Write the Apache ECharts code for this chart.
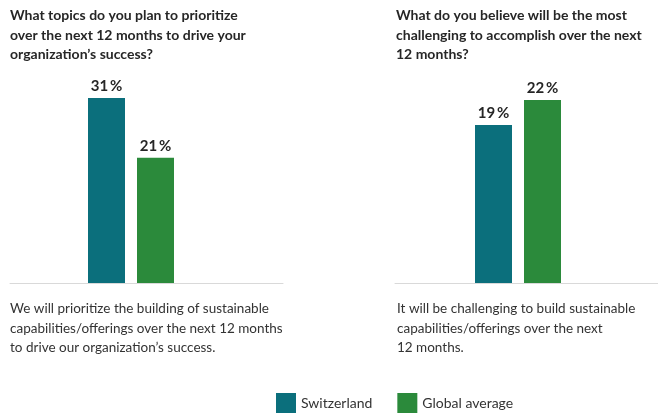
<!DOCTYPE html>
<html><head><meta charset="utf-8">
<script src="https://cdn.jsdelivr.net/npm/echarts@6/dist/echarts.min.js"></script>
<style>html,body{margin:0;padding:0;background:#fff}#c{width:658px;height:414px}</style>
</head><body><div id="c"></div>
<script>
const seriesNames = ['Switzerland', 'Global average'];
const leftTitle = 'What topics do you plan to prioritize\nover the next 12 months to drive your\norganization\u2019s success?';
const leftNote = 'We will prioritize the building of sustainable\ncapabilities/offerings over the next 12 months\nto drive our organization\u2019s success.';
const rightTitle = 'What do you believe will be the most\nchallenging to accomplish over the next\n12 months?';
const rightNote = 'It will be challenging to build sustainable\ncapabilities/offerings over the next\n12 months.';
const leftValues = [31, 21];   // Switzerland, Global average
const rightValues = [19, 22];  // Switzerland, Global average
const colors = ['#0b6f7c', '#2b8a3b'];

const FONT = 'Lato';
const chart = echarts.init(document.getElementById('c'));
const titleStyle = {fontFamily: FONT, fontSize: 14, fontWeight: 'bold', color: '#262626', lineHeight: 19.5};
const noteStyle = {fontFamily: FONT, fontSize: 13.5, fontWeight: 'normal', color: '#333', lineHeight: 19.5};

function makeSeries(vals, axisIdx) {
  return seriesNames.map((n, i) => ({
    name: n, type: 'bar', xAxisIndex: axisIdx, yAxisIndex: axisIdx, stack: 's' + axisIdx,
    barWidth: 37,
    itemStyle: {color: colors[i]},
    data: seriesNames.map((c, j) => j === i ? vals[i] : '-'),
    label: {show: true, position: 'top', distance: 4, fontFamily: FONT, fontSize: 15, fontWeight: 'bold', color: '#262626',
      formatter: p => p.value + '\u2009%'}
  }));
}

chart.setOption({
  animation: false,
  color: colors,
  title: [
    {text: leftTitle, left: 5, top: 1, textStyle: titleStyle},
    {text: rightTitle, left: 391, top: 1, textStyle: titleStyle},
    {text: leftNote, left: 5, top: 294, textStyle: noteStyle},
    {text: rightNote, left: 392, top: 294, textStyle: noteStyle}
  ],
  legend: {
    data: seriesNames, left: 271, top: 388, itemWidth: 20, itemHeight: 20, itemGap: 25, icon: 'rect',
    textStyle: {fontFamily: FONT, fontSize: 14, color: '#333'}
  },
  grid: [
    {left: 82, width: 98, top: 98, bottom: 131},
    {left: 469, width: 98, top: 100, bottom: 131},
    {left: 10, width: 273, top: 98, bottom: 131},
    {left: 395, right: 0, top: 100, bottom: 131}
  ],
  xAxis: [
    {type: 'category', gridIndex: 0, data: seriesNames, show: false},
    {type: 'category', gridIndex: 1, data: seriesNames, show: false},
    {type: 'category', gridIndex: 2, data: [''], axisLine: {lineStyle: {color: '#d9d9d9'}}, axisTick: {show: false}, axisLabel: {show: false}},
    {type: 'category', gridIndex: 3, data: [''], axisLine: {lineStyle: {color: '#d9d9d9'}}, axisTick: {show: false}, axisLabel: {show: false}}
  ],
  yAxis: [
    {type: 'value', gridIndex: 0, min: 0, max: Math.max(...leftValues), show: false},
    {type: 'value', gridIndex: 1, min: 0, max: Math.max(...rightValues), show: false},
    {type: 'value', gridIndex: 2, min: 0, max: 1, show: false},
    {type: 'value', gridIndex: 3, min: 0, max: 1, show: false}
  ],
  series: [...makeSeries(leftValues, 0), ...makeSeries(rightValues, 1)]
});
</script></body></html>
